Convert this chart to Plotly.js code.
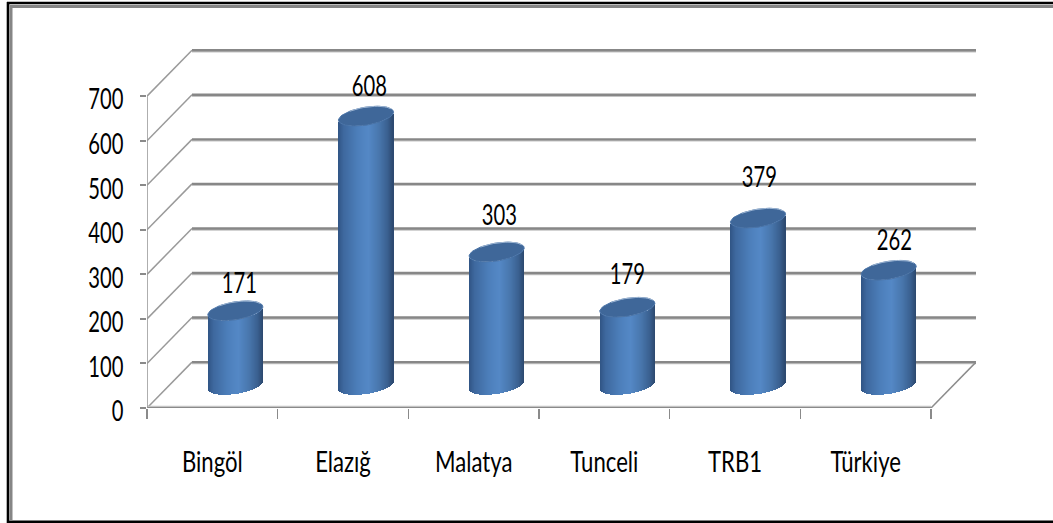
<!DOCTYPE html>
<html>
<head>
<meta charset="utf-8">
<script src="https://cdn.plot.ly/plotly-3.0.1.min.js"></script>
<style>html,body{margin:0;padding:0;background:#fff;overflow:hidden}#c{width:1053px;height:523px}</style>
</head>
<body>
<div id="c"></div>
<script>
const categories = ['Bingöl', 'Elazığ', 'Malatya', 'Tunceli', 'TRB1', 'Türkiye'];
const values = [171, 608, 303, 179, 379, 262];
const yTicks = [0, 100, 200, 300, 400, 500, 600, 700];
const labelShiftX = [27, 26, 26, 23, 24, 29];
const labelShiftY = [50, 52, 59, 55, 63, 52];

// Geometry of the pseudo-3D box, in pixels
const W = 1053, H = 523, L = 147, R = 976, T = 49, B = 408;
const catPx = 130.67, valPx = 0.4455;
const depth = 45;
const ux = p => p / catPx, uy = p => p / valPx;
const capA = 27.5, capB = 9, capTilt = 4, midD = 23, capDrop = 2;
const FONT = 'Lato, "Open Sans", sans-serif';
const FS = 28, SQUEEZE = 0.72, SQUEEZE_CAT = 0.79, YLABEL_DROP = 3.5;

const stops = [[0,[48,84,132]],[0.1,[62,104,158]],[0.35,[76,126,186]],[0.55,[84,136,198]],
               [0.75,[72,118,172]],[0.9,[58,96,144]],[1,[44,72,110]]];
function grad(t){
  for(let i=1;i<stops.length;i++){
    if(t<=stops[i][0]){
      const a=stops[i-1],b=stops[i],k=(t-a[0])/(b[0]-a[0]);
      const c=a[1].map((v,j)=>Math.round(v+(b[1][j]-v)*k));
      return `rgb(${c.join(',')})`;
    }
  }
  return 'rgb(44,72,110)';
}

// Cylinder body: vertical 1px strips, each one a bar on the value axis
const sx=[], sBase=[], sH=[], sCol=[];
values.forEach((v,i)=>{
  const cx=i+0.5+ux(midD), base0=uy(midD);
  for(let u=-capA+0.5;u<capA;u+=1){
    const r=u/capA, arc=capB*Math.sqrt(1-r*r), tilt=capTilt*r;
    const low=base0-uy(arc)+uy(tilt);
    const top=v+base0-uy(capDrop)-uy(arc)+uy(tilt);
    sx.push(cx+ux(u)); sBase.push(low); sH.push(top-low); sCol.push(grad((u+capA)/(2*capA)));
  }
});
const bodyTrace={type:'bar',x:sx,y:sH,base:sBase,width:ux(1.25),
  marker:{color:sCol,line:{width:0}},hoverinfo:'skip',showlegend:false,cliponaxis:false};

// Tilted elliptical caps
const capTraces=[];
values.forEach((v,i)=>{
  const cx=i+0.5+ux(midD), cy=v+uy(midD-capDrop);
  const xs=[],ys=[],rx=[],ry=[];
  for(let d=0;d<=360;d+=6){
    const t=d*Math.PI/180,c=Math.cos(t),s=Math.sin(t);
    const X=cx+ux(capA*c), Y=cy+uy(capTilt*c+capB*s);
    xs.push(X);ys.push(Y);
    if(d>=20&&d<=130){rx.push(X);ry.push(Y);}
  }
  capTraces.push({type:'scatter',mode:'lines',x:xs,y:ys,fill:'toself',fillcolor:'#3f6799',
    line:{color:'#4a74a8',width:1},hoverinfo:'skip',showlegend:false,cliponaxis:false});
  capTraces.push({type:'scatter',mode:'lines',x:rx,y:ry,
    line:{color:'#9db5d2',width:1},hoverinfo:'skip',showlegend:false,cliponaxis:false});
});

// Box lines are all derived from the axis ticks
const shapes=[];
const ln=(x0,y0,x1,y1,color,width)=>shapes.push({type:'line',xref:'x',yref:'y',x0,y0,x1,y1,
  line:{color,width},layer:'below'});
const xMax=categories.length;
yTicks.forEach(v=>{
  ln(ux(depth),v+uy(depth+0.9)+uy(-1.2),xMax+ux(depth),v+uy(depth+0.9)+uy(-1.2),'#c4c4c4',2);
  ln(ux(depth),v+uy(depth+0.9),xMax+ux(depth),v+uy(depth+0.9),'#878787',2.4);
  ln(0,v,ux(depth),v+uy(depth+0.9),'#9a9a9a',1.5);
});
ln(xMax,0,xMax+ux(depth),uy(depth+0.9),'#8c8c8c',1.5);
ln(0,uy(1.2),xMax,uy(1.2),'#c4c4c4',2);
ln(0,0,xMax,0,'#8a8a8a',2.2);
ln(0,0,0,yTicks[yTicks.length-1],'#9a9a9a',1.6);

// Outer frame, in paper coordinates
const px=p=>(p-L)/(R-L), py=p=>(B-p)/(B-T);
const frame=(x0,y0,x1,y1,color,width)=>shapes.push({type:'line',xref:'paper',yref:'paper',
  x0:px(x0),y0:py(y0),x1:px(x1),y1:py(y1),line:{color,width},layer:'below'});
frame(7,3,W,3,'#000',2.4);
frame(8,521.8,W,521.8,'#000',2.4);
frame(8,2,8,523,'#000',2.6);
frame(11,6.5,W,6.5,'#868686',3);
frame(11,5,11,521,'#868686',3);

const annotations=values.map((v,i)=>({x:i+0.5,y:v,xref:'x',yref:'y',text:String(v),showarrow:false,
  xshift:labelShiftX[i],yshift:labelShiftY[i],xanchor:'center',yanchor:'middle',
  font:{family:FONT,size:FS,color:'#000'}}));

const layout={
  width:W,height:H,showlegend:false,bargap:0,barmode:'overlay',
  paper_bgcolor:'#fff',plot_bgcolor:'rgba(0,0,0,0)',
  margin:{l:L,r:W-R,t:T,b:H-B,pad:0},
  font:{family:FONT,size:FS,color:'#000'},
  xaxis:{range:[0,(R-L)/catPx],showgrid:false,zeroline:false,showline:false,
    tickmode:'array',tickvals:categories.map((c,i)=>i+0.5),ticktext:categories,
    ticks:'outside',ticklen:29,tickwidth:1,tickcolor:'rgba(0,0,0,0)',
    tickfont:{family:FONT,size:FS,color:'#000'},
    minor:{tickmode:'array',tickvals:categories.map((c,i)=>i).concat([categories.length]),
      ticks:'outside',ticklen:10,tickwidth:1.6,tickcolor:'#8a8a8a',showgrid:false}},
  yaxis:{range:[0,(B-T)/valPx],showgrid:false,zeroline:false,showline:false,
    tickmode:'array',tickvals:yTicks,ticks:'outside',ticklen:6,tickwidth:2,tickcolor:'#8a8a8a',
    ticklabelstandoff:11,
    tickfont:{family:FONT,size:FS,color:'#000'}},
  shapes,annotations
};
Plotly.newPlot('c',[bodyTrace].concat(capTraces),layout,{displayModeBar:false,staticPlot:true}).then(gd=>{
  // The reference's type is condensed: squeeze the real text horizontally
  const squeeze=(sel,k)=>gd.querySelectorAll(sel).forEach(t=>{
    t.setAttribute('textLength',(t.getComputedTextLength()*k).toFixed(1));
    t.setAttribute('lengthAdjust','spacingAndGlyphs');
  });
  squeeze('.ytick text, .annotation-text',SQUEEZE);
  squeeze('.xtick text',SQUEEZE_CAT);
  gd.querySelectorAll('.ytick text').forEach(t=>t.setAttribute('dy',YLABEL_DROP));
});
</script>
</body>
</html>
